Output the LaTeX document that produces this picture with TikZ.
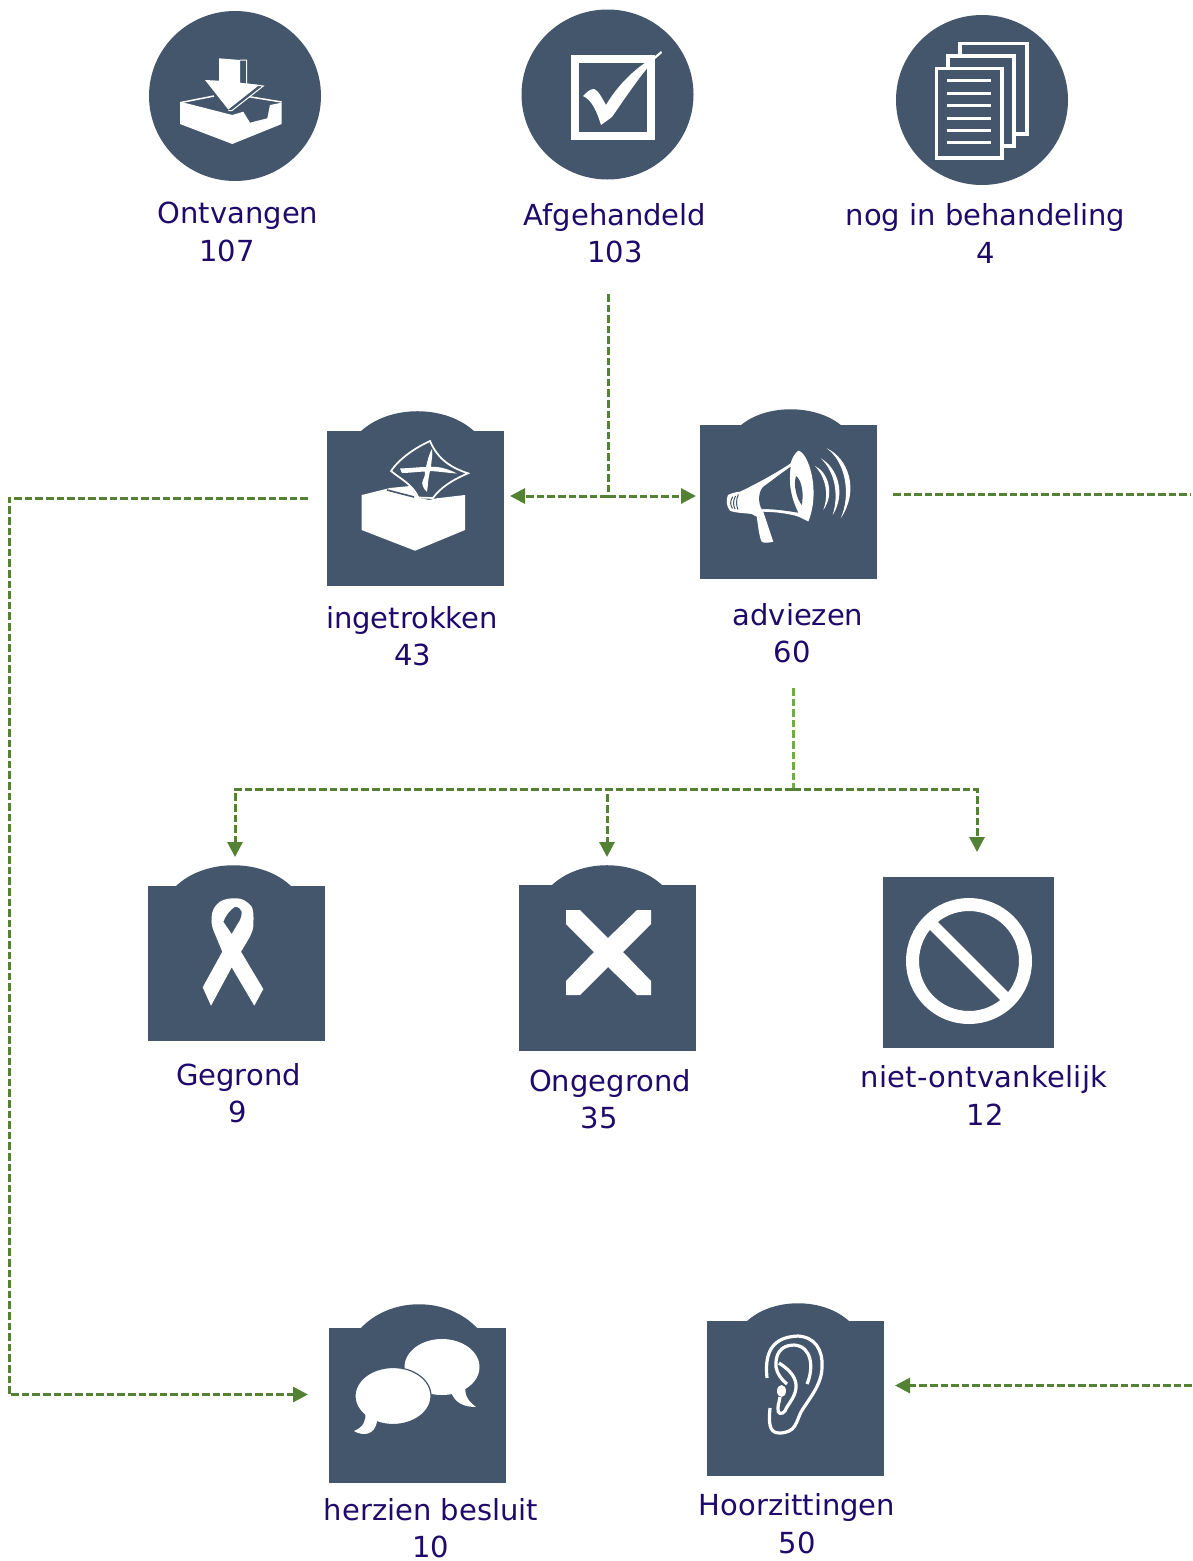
\documentclass[tikz,border=0pt]{standalone}
\usepackage{fontspec}
\setmainfont{DejaVu Sans}
\usetikzlibrary{arrows.meta,shapes.geometric}
\definecolor{slate}{HTML}{44566C}
\definecolor{flowgreen}{HTML}{548235}
\definecolor{flowlight}{HTML}{70AD47}
\definecolor{ink}{HTML}{1F0A6B}
\tikzset{
  x=1pt,y=-1pt,
  tile/.style={rectangle,fill=slate,inner sep=0pt,outer sep=0pt},
  disc/.style={ellipse,fill=slate,inner sep=0pt,outer sep=0pt,minimum width=172pt,minimum height=170pt},
  lbl/.style={anchor=base,text=ink,inner sep=0pt,font=\fontsize{29}{32}\selectfont},
  flow/.style={draw=flowgreen,line width=3pt,dash pattern=on 7.6pt off 3pt},
  tip/.tip={Triangle[length=15pt,width=15pt,fill=flowgreen]},
  glyph/.style={fill=white,draw=none},
  wire/.style={draw=white,fill=none,line width=3.2pt},
}
\begin{document}
\begin{tikzpicture}
\useasboundingbox (0,0) rectangle (1192,1561);
% discs
\node[disc] (ontvangen) at (235,96) {};
\node[disc] (afgehandeld) at (607.5,94.5) {};
\node[disc] (behandeling) at (982,100) {};
% tiles
\node[tile,minimum width=177pt,minimum height=155pt] (ingetrokken) at (415.5,508.5) {};
\fill[slate] (360,432) .. controls (389,404.3) and (446,404.3) .. (475,432) -- cycle;
\node[tile,minimum width=177pt,minimum height=154pt] (adviezen) at (788.5,502) {};
\fill[slate] (740,426) .. controls (765,403.7) and (816,403.7) .. (842,426) -- cycle;
\node[tile,minimum width=177pt,minimum height=155pt] (gegrond) at (236.5,963.5) {};
\fill[slate] (175,887) .. controls (204,858) and (263,858) .. (292,887) -- cycle;
\node[tile,minimum width=177pt,minimum height=166pt] (ongegrond) at (607.5,968) {};
\fill[slate] (551,886) .. controls (579,858.3) and (635,858.3) .. (663,886) -- cycle;
\node[tile,minimum width=171pt,minimum height=171pt] (nietont) at (968.5,962.5) {};
\node[tile,minimum width=177pt,minimum height=155pt] (herzien) at (417.5,1405.5) {};
\fill[slate] (360,1329) .. controls (390,1296) and (448,1296) .. (478,1329) -- cycle;
\node[tile,minimum width=177pt,minimum height=155pt] (hoor) at (795.5,1398.5) {};
\fill[slate] (746,1322) .. controls (772,1297) and (824,1297) .. (850,1322) -- cycle;
% labels
\node[lbl] (l1) at (238,223) {Ontvangen};
\node[lbl] (v1) at (227,261) {107};
\node[lbl] (l2) at (615,225) {Afgehandeld};
\node[lbl] (v2) at (615,262) {103};
\node[lbl] (l3) at (985.5,225) {nog in behandeling};
\node[lbl] (v3) at (986,263) {4};
\node[lbl] (l4) at (412,628) {ingetrokken};
\node[lbl] (v4) at (413,665) {43};
\node[lbl] (l5) at (798,625) {adviezen};
\node[lbl] (v5) at (792,662) {60};
\node[lbl] (l6) at (238.5,1085) {Gegrond};
\node[lbl] (v6) at (238,1122) {9};
\node[lbl] (l7) at (610,1091) {Ongegrond};
\node[lbl] (v7) at (599,1128) {35};
\node[lbl] (l8) at (984,1087) {\addfontfeature{LetterSpace=1}niet-ontvankelijk};
\node[lbl] (v8) at (985,1125) {12};
\node[lbl] (l9) at (431,1520) {herzien besluit};
\node[lbl] (v9) at (431,1557) {10};
\node[lbl] (l10) at (797,1515) {Hoorzittingen};
\node[lbl] (v10) at (797,1553) {50};
% connector way-points
\coordinate (afgStub) at (608,294);
\coordinate (split) at (608,496);
\coordinate (leftTop) at (9,498);
\coordinate (leftBot) at (9,1394.5);
\coordinate (rightA) at (1190,494.5);
\coordinate (rightB) at (1192,1385.5);
\coordinate (advStub) at (793,688);
\coordinate (fan) at (793,789.5);
\coordinate (fanL) at (235,789.5);
\coordinate (fanM) at (607,789.5);
\coordinate (fanR) at (977,789.5);
% connectors
\draw[flow] (afgStub) -- (split);
\draw[flow,-tip,shorten >=6pt] (split) -- (split -| ingetrokken.east);
\draw[flow,-tip,shorten >=4pt] (split) -- (split -| adviezen.west);
\draw[flow,-tip,shorten <=19pt,shorten >=21pt] ([yshift=10.5pt]ingetrokken.west) -- (leftTop) -- (leftBot) -- ([yshift=11pt]herzien.west);
\draw[flow,shorten <=16pt] ([yshift=7.5pt]adviezen.east) -- (rightA);
\draw[flow,-tip,shorten >=11pt] (rightB) -- ([yshift=13pt]hoor.east);
\draw[flow,draw=flowlight] (advStub) -- (fan);
\draw[flow,-tip,shorten >=29pt] (fan) -- (fanL) -- (fanL |- gegrond.north);
\draw[flow,-tip,shorten >=28pt] (fan) -- (fanM) -- (fanM |- ongegrond.north);
\draw[flow,-tip,shorten >=25pt] (fan) -- (fanR) -- (fanR |- nietont.north);
% inbox icon
\fill[glyph] (180,102.7) -- (180,124) -- (232.3,144) -- (281.7,124) -- (281.7,102.7) -- (270,105) -- (267.3,118.3) -- (250,122.7) -- (243.3,111.7) -- (232.3,115) -- (184,102.7) -- cycle;
\draw[white,line width=1.5pt] (180,102.7) -- (214,96) (249,96.7) -- (281.7,102);
\draw[white,line width=1pt] (240,60) -- (246.7,60) -- (246.7,84) -- (263.3,86) -- (232,110.5) -- (228.3,110.5);
\fill[glyph] (219,58.3) -- (240,60) -- (240,82.7) -- (259.3,85) -- (228.3,109.5) -- (205,80) -- (219,80.7) -- cycle;
% check icon
\draw[white,line width=8pt] (574.5,59) rectangle (650.5,136);
\fill[glyph] (583,96) .. controls (587,92) and (590,89) .. (594,89) .. controls (598,90) and (602,98) .. (606,105) .. controls (616,88) and (632,70) .. (654,57) -- (661,51) -- (662,53) -- (654,60) .. controls (640,76) and (625,98) .. (612,117) -- (601,125) .. controls (597,112) and (592,100) .. cycle;
% documents icon
\draw[wire] (960,55) -- (960,43.5) -- (1027,43.5) -- (1027,134) -- (1015,134);
\draw[wire] (948,67) -- (948,56) -- (1014,56) -- (1014,146) -- (1003,146);
\draw[wire,fill=slate] (936.5,68.5) rectangle (1002,158);
\foreach \yy in {80.7,93.3,105.7,118,130.3,142.7}
  \draw[white,line width=3pt] (947,\yy) -- (991,\yy);
% ballot icon
\fill[glyph] (361.7,495) -- (361.7,530) -- (415,550.7) -- (465,530) -- (465,495) -- (436.7,498.3) -- (429,500) -- (418.3,497.7) -- (410,486) -- (390,488) -- cycle;
\draw[white,line width=1.7pt,fill=slate] (430,441) .. controls (438,460) and (452,468) .. (468,473.3) .. controls (452,480) and (440,488) .. (433,498) -- (418.5,497.5) .. controls (412,484) and (402,480) .. (391,471) .. controls (400,458) and (415,448) .. (430,441) -- cycle;
\draw[slate,line width=1.6pt] (387,490) -- (414,497);
\fill[glyph] (400,468.5) .. controls (412,468) and (420,467) .. (426,467) .. controls (428,460) and (428,456) .. (432,449) .. controls (433,456) and (431,462) .. (431,467) .. controls (440,466) and (450,470) .. (457,473.5) .. controls (448,473) and (440,471.5) .. (430,471) .. controls (428,478) and (428,486) .. (427,492) .. controls (423,488) and (421,484) .. (423,480) .. controls (425,476) and (425,474) .. (425,471.5) .. controls (415,472) and (408,473) .. (402,473) -- cycle;
% megaphone icon
\fill[glyph] (798.3,450.7) .. controls (808,452) and (821,490) .. (808.3,521.5) .. controls (805,520) and (800,517) .. (796.7,516) .. controls (785,513) and (775,512) .. (763.3,511.7) .. controls (766,520) and (770,532) .. (773.3,541.7) .. controls (768,543) and (763,543) .. (761.7,541.7) .. controls (759,536) and (758,525) .. (756.7,516.7) -- (751.7,514) .. controls (745,513) and (735,513) .. (730,510.7) .. controls (726,506) and (726,499) .. (728,495) .. controls (732,493) and (736,492) .. (740,491.7) .. controls (760,482) and (778,472) .. (790.7,463.3) .. controls (792,458) and (795,453) .. (798.3,450.7) -- cycle;
\fill[slate] (790.7,466.7) .. controls (780,474) and (770,482) .. (763.3,486.7) .. controls (758,492) and (758,503) .. (761.7,509) .. controls (775,509) and (788,511) .. (798.3,512.7) .. controls (791,498) and (788,482) .. (790.7,466.7) -- cycle;
\fill[slate] (796,476) .. controls (802,480) and (804,495) .. (801.7,505) .. controls (797,499) and (793,486) .. (796,476) -- cycle;
\draw[slate,line width=1pt] (732.7,496.7) .. controls (730,501) and (730,505) .. (732.5,508.5) (735.5,496) .. controls (733,501) and (733,505) .. (735,509) (738.3,494.5) .. controls (736,500) and (736,505) .. (738,509.5);
\fill[glyph] (826.7,448.3) .. controls (848,458) and (860,490) .. (840.7,518.3) .. controls (851,495) and (846,462) .. (826.7,448.3) -- cycle;
\fill[glyph] (820.7,458.3) .. controls (838,468) and (846,494) .. (832.7,515) .. controls (839,494) and (835,472) .. (820.7,458.3) -- cycle;
\fill[glyph] (815,466) .. controls (828,472) and (835,494) .. (823.3,510) .. controls (829,494) and (826,478) .. (815,466) -- cycle;
% ribbon icon
\fill[glyph,even odd rule] (202.7,987.3) -- (211,1005.7) -- (231.7,967.3) -- (254.3,1005.7) -- (263.3,989) -- (241,951.7) .. controls (248,940) and (254,932) .. (253.3,923.3) .. controls (254,915) and (253,909) .. (251.7,906.7) .. controls (247,901) and (242,898.3) .. (236.7,898.3) .. controls (230,898) and (224,899) .. (220,901.7) .. controls (214,906) and (212,911) .. (211.7,916.7) .. controls (211,923) and (212,927) .. (214,931.7) -- (222.3,951.7) -- cycle
 (231.7,934) -- (223.3,921.7) .. controls (226,915) and (230,910) .. (235,906.7) .. controls (239,907) and (241,909) .. (241.7,911.7) .. controls (242,915) and (241,918) .. (240,920) -- cycle;
% cross icon
\fill[glyph] (566,910) -- (580,910) -- (608,938) -- (637,910) -- (651,910) -- (651,924) -- (623,952) -- (651,981) -- (651,995) -- (637,995) -- (608,967) -- (580,995) -- (566,995) -- (566,981) -- (594,952) -- (566,924) -- cycle;
% prohibition icon
\draw[white,line width=13pt] (969,961) circle [radius=56.5pt];
\draw[white,line width=11pt] (928,920) -- (1010,1002);
% speech bubbles icon
\fill[glyph] (442,1367) ellipse [x radius=37.5pt,y radius=28pt];
\fill[glyph] (466,1385) .. controls (464,1392) and (466,1400) .. (476,1407) .. controls (464,1407) and (455,1403) .. (451,1392) -- cycle;
\fill[glyph,draw=slate,line width=1.2pt] (393,1396) ellipse [x radius=38pt,y radius=28.5pt];
\fill[glyph] (365.5,1413) .. controls (366,1420) and (364,1427) .. (354,1431) .. controls (362,1436) and (375,1436) .. (377,1421) -- cycle;
% ear icon
\draw[wire,line cap=butt] (767,1378) .. controls (765,1358) and (768,1337) .. (798,1336) .. controls (815,1337) and (823,1350) .. (822,1367) .. controls (822,1385) and (808,1400) .. (801,1412) .. controls (796,1422) and (796,1433) .. (779,1433) .. controls (768,1433) and (769,1420) .. (770,1408);
\draw[wire] (807,1384) .. controls (814,1368) and (812,1346) .. (794,1345) .. controls (780,1345) and (775,1355) .. (776,1367) .. controls (777,1374) and (782,1380) .. (787,1384);
\draw[wire] (779,1363) .. controls (790,1370) and (797,1378) .. (796,1388) .. controls (795,1398) and (787,1405) .. (785,1411) .. controls (782,1415) and (777,1414) .. (778,1408) .. controls (778,1403) and (780,1401) .. (780,1397);
\fill[glyph] (781.5,1391) ellipse [x radius=4.5pt,y radius=6pt];
\end{tikzpicture}
\end{document}
